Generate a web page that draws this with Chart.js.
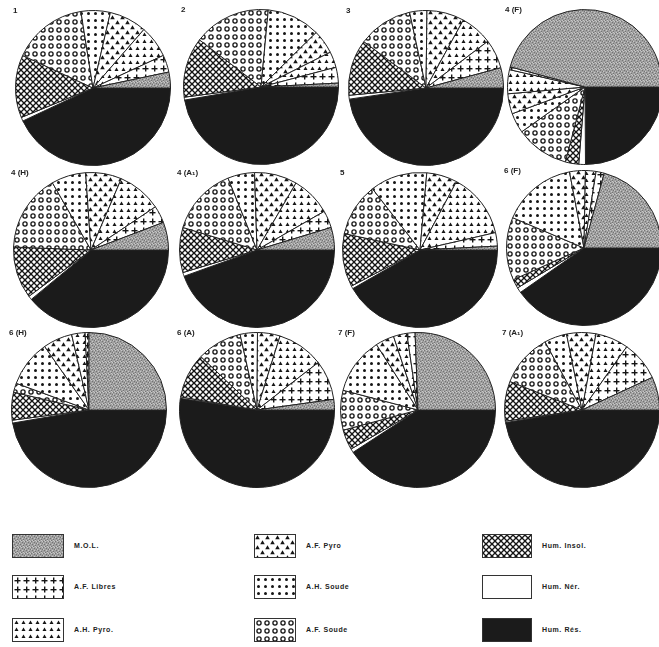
<!DOCTYPE html>
<html>
<head>
<meta charset="utf-8">
<script src="https://cdn.jsdelivr.net/npm/chart.js@4.4.0/dist/chart.umd.min.js"></script>
<style>
body { margin:0; background:#fff; width:659px; height:647px; position:relative; overflow:hidden; font-family:"Liberation Sans", Arial, sans-serif; }
.pie { position:absolute; width:156px; height:156px; }
.lab { position:absolute; font-size:8px; font-weight:bold; color:#222; white-space:nowrap; }
.key { position:absolute; }
.key canvas { position:absolute; left:0; top:0; border:1px solid #333; }
.key span { position:absolute; top:50%; transform:translateY(-50%); font-size:7px; font-weight:bold; letter-spacing:0.6px; color:#222; white-space:nowrap; }
</style>
</head>
<body>
<script>
// categories, in legend order (counter-clockwise from 3 o'clock in each pie)
const categories = ['M.O.L.', 'A.F. Libres', 'A.H. Pyro.', 'A.F. Pyro', 'A.H. Soude', 'A.F. Soude', 'Hum. Insol.', 'Hum. Nér.', 'Hum. Rés.'];
const sampleLabels = ['1', '2', '3', '4 (F)', '4 (H)', '4 (A₁)', '5', '6 (F)', '6 (H)', '6 (A)', '7 (F)', '7 (A₁)'];

// % of each fraction, per sample
const s1   = [3.3, 3.6, 6.7, 7.8, 6.1, 15.6, 13.1, 0.8, 43.0];
const s2   = [0.8, 3.3, 3.3, 5.0, 11.1, 16.1, 12.5, 0.6, 47.3];
const s3   = [4.2, 6.1, 6.7, 7.8, 3.6, 11.4, 11.7, 0.8, 47.7];
const s4F  = [45.8, 0.6, 5.0, 4.2, 4.2, 11.1, 2.8, 1.4, 24.9];
const s4H  = [5.8, 3.6, 9.2, 7.5, 7.2, 16.1, 10.8, 0.8, 39.0];
const s4A1 = [4.7, 3.6, 8.3, 8.9, 5.6, 14.2, 9.4, 0.8, 44.5];
const s5   = [0.8, 2.8, 13.6, 6.4, 11.9, 11.1, 11.1, 0.6, 41.7];
const s6F  = [20.8, 1.7, 2.2, 3.3, 15.6, 13.1, 1.9, 1.1, 40.3];
const s6H  = [25.0, 0.8, 2.8, 6.1, 9.7, 1.9, 5.8, 0.6, 47.3];
const s6A  = [2.2, 8.3, 9.7, 4.7, 3.6, 9.4, 9.4, 0.3, 52.4];
const s7F  = [25.6, 1.7, 2.8, 3.9, 11.9, 8.3, 4.2, 0.8, 40.8];
const s7A1 = [6.9, 8.3, 6.9, 6.1, 4.7, 11.1, 8.3, 0.3, 47.4];
const samples = [s1, s2, s3, s4F, s4H, s4A1, s5, s6F, s6H, s6A, s7F, s7A1];

// layout: pie centres
const centres = [[93, 88], [261, 87], [426, 88], [585, 87],
                 [91, 250], [257, 250], [420, 250], [584, 248],
                 [89, 410], [257, 410], [418, 410], [582, 410]];
const R = 78;

// hatch patterns
function tile(w, h, draw) {
  const c = document.createElement('canvas');
  c.width = w; c.height = h;
  const g = c.getContext('2d');
  g.fillStyle = '#fff'; g.fillRect(0, 0, w, h);
  g.fillStyle = '#151515'; g.strokeStyle = '#151515';
  draw(g);
  return g.createPattern(c, 'repeat');
}
function tri(g, x, y, s) {
  g.beginPath(); g.moveTo(x, y - s); g.lineTo(x + s, y + s * 0.8); g.lineTo(x - s, y + s * 0.8); g.closePath(); g.fill();
}
const fills = [
  tile(6, 6, g => {
    g.fillStyle = '#a0a0a0'; g.fillRect(0, 0, 6, 6);
    g.fillStyle = '#747474'; [[0,0],[3,1],[1,3],[4,4],[5,2],[2,5]].forEach(p => g.fillRect(p[0], p[1], 1, 1));
    g.fillStyle = '#c8c8c8'; [[2,0],[5,0],[0,2],[3,3],[1,5],[4,5]].forEach(p => g.fillRect(p[0], p[1], 1, 1));
  }),
  tile(9, 9, g => { g.fillRect(4, 1.5, 1.4, 6); g.fillRect(1.5, 4, 6, 1.4); }),
  tile(7, 7, g => tri(g, 3.5, 3.5, 2)),
  tile(10, 10, g => { tri(g, 2.5, 2.5, 2.3); tri(g, 7.5, 7.5, 2.3); }),
  tile(7, 7, g => { g.beginPath(); g.arc(3.5, 3.5, 1.5, 0, Math.PI * 2); g.fill(); }),
  tile(8, 8, g => { g.lineWidth = 1.3; g.beginPath(); g.arc(4, 4, 2.1, 0, Math.PI * 2); g.stroke(); }),
  tile(6, 6, g => {
    g.lineWidth = 1.3;
    for (let o = -6; o <= 6; o += 6) {
      g.beginPath(); g.moveTo(o, 0); g.lineTo(o + 6, 6); g.stroke();
      g.beginPath(); g.moveTo(o + 6, 0); g.lineTo(o, 6); g.stroke();
    }
  }),
  '#ffffff',
  '#1b1b1b'
];

// PIES
samples.forEach((vals, i) => {
  const [cx, cy] = centres[i];
  const box = document.createElement('div');
  box.className = 'pie';
  box.style.left = (cx - R) + 'px';
  box.style.top = (cy - R) + 'px';
  const cv = document.createElement('canvas');
  box.appendChild(cv);
  document.body.appendChild(box);

  const lab = document.createElement('div');
  lab.className = 'lab';
  lab.textContent = sampleLabels[i];
  lab.style.left = (cx - R - 2) + 'px';
  lab.style.top = (cy - R - 4) + 'px';
  document.body.appendChild(lab);

  // Chart.js draws clockwise, so reverse to get counter-clockwise from east
  new Chart(cv, {
    type: 'pie',
    data: {
      labels: categories.slice().reverse(),
      datasets: [{
        data: vals.slice().reverse(),
        backgroundColor: fills.slice().reverse(),
        borderColor: '#222',
        borderWidth: 1
      }]
    },
    options: {
      rotation: 90,
      responsive: true,
      maintainAspectRatio: false,
      animation: false,
      layout: { padding: 0 },
      plugins: { legend: { display: false }, tooltip: { enabled: false } }
    }
  });
});

// LEGEND
const keyCols = [[12, 50], [254, 40], [482, 48]];
const keyRows = [534, 575, 618];
categories.forEach((name, i) => {
  const col = Math.floor(i / 3), row = i % 3;
  const [x, w] = keyCols[col];
  const k = document.createElement('div');
  k.className = 'key';
  k.style.left = x + 'px';
  k.style.top = keyRows[row] + 'px';
  k.style.width = w + 'px';
  k.style.height = '22px';
  const c = document.createElement('canvas');
  c.width = w; c.height = 22;
  const g = c.getContext('2d');
  g.fillStyle = fills[i]; g.fillRect(0, 0, w, 22);
  k.appendChild(c);
  const t = document.createElement('span');
  t.textContent = name;
  t.style.left = (w + 12) + 'px';
  k.appendChild(t);
  document.body.appendChild(k);
});
</script>
</body>
</html>
